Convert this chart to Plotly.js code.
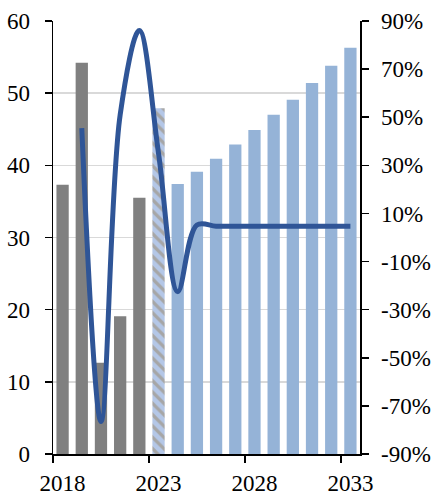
<!DOCTYPE html>
<html>
<head>
<meta charset="utf-8">
<script src="https://cdn.plot.ly/plotly-3.0.1.min.js"></script>
<style>html,body{margin:0;padding:0;background:#fff;font-family:'Liberation Serif',serif;}
#chart{position:relative;width:432px;height:495px;z-index:1;}
#fontwarm{position:absolute;left:100px;top:100px;z-index:0;font-family:'Liberation Serif';font-size:23px;color:#fff;}</style>
</head>
<body>
<span id="fontwarm" aria-hidden="true">0</span>
<div id="chart"></div>
<script>
var years = [2018,2019,2020,2021,2022,2023,2024,2025,2026,2027,2028,2029,2030,2031,2032,2033];
var values = [37.3,54.2,12.65,19.1,35.5,47.9,37.4,39.1,40.9,42.9,44.9,47.0,49.1,51.4,53.8,56.3];
var growth = [null,45.5,-76.5,51,86,35,-22.5,5.2,4.7,4.7,4.7,4.7,4.7,4.7,4.7,4.7];
var xTickVals = [2018,2023,2028,2033];
var xTickText = ['2018','2023','2028','2033'];
var y2TickVals = [-90,-70,-50,-30,-10,10,30,50,70,90];
var y2TickText = ['-90%','-70%','-50%','-30%','-10%','10%','30%','50%','70%','90%'];

var actualYears = 5, estimateYear = 5;
var barColors = years.map(function(y,i){ return i < actualYears ? '#808080' : '#95B3D7'; });
var solidValues = values.map(function(v,i){ return i === estimateYear ? null : v; });
var hatchValues = values.map(function(v,i){ return i === estimateYear ? v : null; });

var traces = [
  {type:'bar', x:years, y:solidValues, width:0.64,
   marker:{color:barColors, line:{width:0}}, hoverinfo:'skip'},
  {type:'bar', x:years, y:hatchValues, width:0.64,
   marker:{color:'#B4C7E7', line:{width:0},
     pattern:{shape:'\\', fillmode:'replace', bgcolor:'#B4C7E7', fgcolor:'#A6A6A6', fgopacity:1, size:8, solidity:0.4}},
   hoverinfo:'skip'},
  {type:'scatter', mode:'lines', x:years, y:growth, yaxis:'y2',
   line:{color:'#2F5597', width:5, shape:'spline', smoothing:1},
   connectgaps:false, hoverinfo:'skip'}
];

var layout = {
  width:432, height:495,
  margin:{l:53, r:72, t:21, b:41},
  paper_bgcolor:'#fff', plot_bgcolor:'#fff',
  showlegend:false, font:{family:'Liberation Serif', size:23, color:'#000'}, barmode:'overlay',
  xaxis:{range:[2017.5,2033.5], tickmode:'array', tickvals:xTickVals, ticktext:xTickText, ticks:'',
    showline:true, linecolor:'#000', linewidth:1.5, showgrid:false, zeroline:false,
    ticklabelstandoff:8,
    minor:{tickvals:[2017.5,2022.5,2027.5,2032.5], ticks:'outside', ticklen:7, tickwidth:1.5, tickcolor:'#000', showgrid:false}},
  yaxis:{range:[0,60], dtick:10, tick0:0, ticks:'outside', ticklen:7, tickwidth:1.5, tickcolor:'#000',
    showline:true, linecolor:'#000', linewidth:1.5, showgrid:true, gridcolor:'#D9D9D9', gridwidth:1.5,
    zeroline:false, ticklabelstandoff:10},
  yaxis2:{range:[-90,90], overlaying:'y', side:'right', tickmode:'array', tickvals:y2TickVals, ticktext:y2TickText,
    ticks:'outside', ticklen:7, tickwidth:1.5, tickcolor:'#000',
    showline:true, linecolor:'#000', linewidth:1.5, showgrid:false, zeroline:false, ticklabelstandoff:8}
};

Plotly.newPlot('chart', traces, layout, {staticPlot:true, displayModeBar:false}).then(function(gd){
  var texts = gd.querySelectorAll('text');
  for (var i = 0; i < texts.length; i++) {
    texts[i].style.fontFamily = "'Liberation Serif', serif";
  }
});
</script>
</body>
</html>
